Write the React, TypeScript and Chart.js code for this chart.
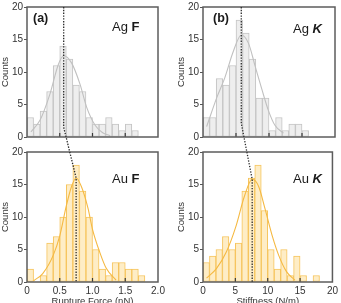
import { useEffect, useRef } from 'react';
import { Chart, registerables } from 'chart.js';

Chart.register(...registerables);

const FONT = "'Liberation Sans', Arial, Helvetica, sans-serif";

// Histogram bins (bin centres) and counts
const forceBinCenters = [0.05, 0.15, 0.25, 0.35, 0.45, 0.55, 0.65, 0.75, 0.85, 0.95, 1.05, 1.15, 1.25, 1.35, 1.45, 1.55, 1.65, 1.75];
const agForceCounts = [3, 2, 4, 7, 11, 14, 12, 8, 7, 3, 2, 2, 3, 2, 1, 2, 1];
const auForceCounts = [2, 0, 1, 6, 7, 10, 15, 18, 14, 10, 5, 2, 1, 3, 3, 2, 2, 1];

const stiffBinCenters = [0.5, 1.5, 2.5, 3.5, 4.5, 5.5, 6.5, 7.5, 8.5, 9.5, 10.5, 11.5, 12.5, 13.5, 14.5, 15.5, 16.5, 17.5];
const agStiffCounts = [3, 3, 9, 8, 11, 18, 16, 12, 6, 6, 1, 3, 1, 2, 2, 1];
const auStiffCounts = [3, 4, 5, 7, 5, 6, 14, 16, 18, 11, 5, 2, 5, 1, 4, 1, 0, 1];

// Fitted distribution curves, sampled as [x, count]
const agForceFit = [[0.06, 0.8], [0.2, 2.6], [0.35, 6.6], [0.48, 11.2], [0.56, 12.5], [0.68, 11.4], [0.81, 8.1], [0.91, 4.6], [1.04, 1.8], [1.15, 0.7], [1.27, 0.2]];
const auForceFit = [[0.1, 0.2], [0.24, 1.3], [0.4, 4.1], [0.5, 7.1], [0.6, 11.7], [0.68, 14.7], [0.75, 16], [0.83, 14.7], [0.93, 11.4], [1.0, 8.1], [1.11, 4.6], [1.21, 2.1], [1.36, 0.3]];
const agStiffFit = [[0.55, 1.6], [2.1, 6.1], [3.3, 9.1], [4.6, 13.2], [5.8, 15.7], [6.9, 14.4], [7.9, 10.9], [8.9, 7.4], [9.9, 4.1], [10.9, 1.8], [12.2, 0.6]];
const auStiffFit = [[0.55, 0.6], [2.1, 2.1], [3.6, 4.6], [5.1, 8.6], [6.4, 13.2], [7.6, 15.8], [8.6, 14.7], [9.6, 11.2], [10.7, 7.1], [11.7, 4.1], [12.9, 1.6], [14.2, 0.3]];

// Mean positions joined by the dotted guide
const agForceMean = 0.56;
const auForceMean = 0.75;
const auForcePeak = 16;
const agForceBend = 1.5;
const agStiffMean = 5.8;
const auStiffMean = 7.6;
const auStiffPeak = 15.8;
const agStiffBend = 2.1;

// Axis ticks
const countTicks = [0, 5, 10, 15, 20];
const forceTicks = [0, 0.5, 1.0, 1.5, 2.0];
const stiffTicks = [0, 5, 10, 15, 20];

const AG = { fill: '#eeeeee', edge: '#c4c4c4', line: '#c0c0c0' };
const AU = { fill: '#feedc6', edge: '#f6c45c', line: '#f5b942' };

const panelDecor = {
  id: 'panelDecor',
  afterDatasetsDraw(chart: any, _args: any, opts: any) {
    const { ctx, chartArea: a, scales } = chart;
    ctx.save();
    // inward x tick marks
    ctx.strokeStyle = '#3a3a3a';
    ctx.lineWidth = 1.2;
    for (const t of opts.xTicks) {
      if (t <= scales.x.min || t >= scales.x.max) continue;
      const px = scales.x.getPixelForValue(t);
      ctx.beginPath();
      ctx.moveTo(px, a.bottom);
      ctx.lineTo(px, a.bottom - 4);
      ctx.stroke();
    }
    // frame
    ctx.strokeStyle = '#5c5c5c';
    ctx.lineWidth = 1.5;
    ctx.strokeRect(a.left, a.top, a.right - a.left, a.bottom - a.top);
    // panel tag and sample label
    ctx.fillStyle = '#1a1a1a';
    ctx.textBaseline = 'alphabetic';
    if (opts.tag) {
      ctx.font = `bold 12.5px ${FONT}`;
      ctx.fillText(opts.tag, a.left + opts.tagDx, a.top + opts.tagBase);
    }
    ctx.font = `13px ${FONT}`;
    const lx = a.left + opts.labelDx;
    const ly = a.top + opts.labelBase;
    const head = opts.element + ' ';
    ctx.fillText(head, lx, ly);
    const w = ctx.measureText(head).width;
    ctx.font = `${opts.italic ? 'italic ' : ''}bold 13px ${FONT}`;
    ctx.fillText(opts.symbol, lx + w, ly);
    ctx.restore();
  },
};

type Panel = {
  centers: number[];
  counts: number[];
  fit: number[][];
  colors: { fill: string; edge: string; line: string };
  xTicks: number[];
  showXLabels: boolean;
  xTitle: string;
  fmt: (v: number) => string;
  rightPad: number;
  xAxisHeight: number;
  tag?: string;
  tagDx?: number;
  tagBase?: number;
  element: string;
  symbol: string;
  italic: boolean;
  labelDx: number;
  labelBase: number;
};

function makeChart(canvas: HTMLCanvasElement, p: Panel) {
  const xMax = p.xTicks[p.xTicks.length - 1];
  return new Chart(canvas, {
    type: 'bar',
    data: {
      datasets: [
        {
          type: 'line',
          data: p.fit.map(([x, y]) => ({ x, y })),
          borderColor: p.colors.line,
          borderWidth: 1.1,
          pointRadius: 0,
          cubicInterpolationMode: 'monotone',
          fill: false,
          order: 0,
        } as any,
        {
          type: 'bar',
          data: p.counts.map((c, i) => ({ x: p.centers[i], y: c })),
          backgroundColor: p.colors.fill,
          borderColor: p.colors.edge,
          borderWidth: 1,
          borderSkipped: false,
          barPercentage: 1,
          categoryPercentage: 1,
          order: 1,
        } as any,
      ],
    },
    options: {
      responsive: false,
      animation: false,
      events: [],
      layout: { padding: { left: 0, top: 5, right: p.rightPad, bottom: 0 } },
      plugins: {
        legend: { display: false },
        tooltip: { enabled: false },
        panelDecor: {
          xTicks: p.xTicks,
          tag: p.tag,
          tagDx: p.tagDx,
          tagBase: p.tagBase,
          element: p.element,
          symbol: p.symbol,
          italic: p.italic,
          labelDx: p.labelDx,
          labelBase: p.labelBase,
        },
      } as any,
      scales: {
        x: {
          type: 'linear',
          min: 0,
          max: xMax,
          offset: false,
          afterBuildTicks: (s: any) => {
            s.ticks = p.xTicks.map((v) => ({ value: v }));
          },
          afterFit: (s: any) => {
            s.height = p.xAxisHeight;
          },
          ticks: {
            display: p.showXLabels,
            autoSkip: false,
            maxRotation: 0,
            padding: 3,
            color: '#333',
            font: { family: FONT, size: 10 },
            callback: (v: any) => p.fmt(Number(v)),
          },
          grid: { display: false, drawTicks: false },
          border: { display: false },
          title: {
            display: p.showXLabels,
            text: p.xTitle,
            color: '#333',
            padding: 0,
            font: { family: FONT, size: 9.5 },
          },
        },
        y: {
          min: 0,
          max: 20,
          afterBuildTicks: (s: any) => {
            s.ticks = countTicks.map((v) => ({ value: v }));
          },
          afterFit: (s: any) => {
            s.width = 27;
          },
          ticks: {
            padding: 1,
            color: '#333',
            font: { family: FONT, size: 10 },
          },
          grid: {
            display: true,
            drawOnChartArea: false,
            drawTicks: true,
            tickLength: 3,
            color: '#555',
            lineWidth: 1,
          },
          border: { display: false },
          title: {
            display: true,
            text: 'Counts',
            color: '#333',
            padding: 0,
            font: { family: FONT, size: 9.5 },
          },
        },
      },
    } as any,
    plugins: [panelDecor],
  });
}

const fmtForce = (v: number) => (v === 0 ? '0' : v.toFixed(1));
const fmtStiff = (v: number) => String(v);

const BOTTOM_TOP = 145;
const RIGHT_LEFT = 176;

export default function App() {
  const tlRef = useRef<HTMLCanvasElement>(null);
  const blRef = useRef<HTMLCanvasElement>(null);
  const trRef = useRef<HTMLCanvasElement>(null);
  const brRef = useRef<HTMLCanvasElement>(null);
  const ovRef = useRef<HTMLCanvasElement>(null);

  useEffect(() => {
    const agF = makeChart(tlRef.current!, {
      centers: forceBinCenters, counts: agForceCounts, fit: agForceFit, colors: AG,
      xTicks: forceTicks, showXLabels: false, xTitle: '', fmt: fmtForce,
      rightPad: 12, xAxisHeight: 8,
      tag: '(a)', tagDx: 6, tagBase: 14.5,
      element: 'Ag', symbol: 'F', italic: false, labelDx: 85, labelBase: 24,
    });
    const auF = makeChart(blRef.current!, {
      centers: forceBinCenters, counts: auForceCounts, fit: auForceFit, colors: AU,
      xTicks: forceTicks, showXLabels: true, xTitle: 'Rupture Force (nN)', fmt: fmtForce,
      rightPad: 12, xAxisHeight: 25,
      element: 'Au', symbol: 'F', italic: false, labelDx: 85, labelBase: 31,
    });
    const agK = makeChart(trRef.current!, {
      centers: stiffBinCenters, counts: agStiffCounts, fit: agStiffFit, colors: AG,
      xTicks: stiffTicks, showXLabels: false, xTitle: '', fmt: fmtStiff,
      rightPad: 6, xAxisHeight: 8,
      tag: '(b)', tagDx: 10, tagBase: 15,
      element: 'Ag', symbol: 'K', italic: true, labelDx: 90, labelBase: 25.5,
    });
    const auK = makeChart(brRef.current!, {
      centers: stiffBinCenters, counts: auStiffCounts, fit: auStiffFit, colors: AU,
      xTicks: stiffTicks, showXLabels: true, xTitle: 'Stiffness (N/m)', fmt: fmtStiff,
      rightPad: 6, xAxisHeight: 25,
      element: 'Au', symbol: 'K', italic: true, labelDx: 90, labelBase: 31,
    });

    // dotted guide from the Ag mean to the Au mean in each column
    const ctx = ovRef.current!.getContext('2d')!;
    ctx.clearRect(0, 0, 341, 303);
    const guide = (top: Chart, bot: Chart, dx: number, agMean: number, bend: number, auMean: number, auPeak: number) => {
      const ts: any = top.scales;
      const bs: any = bot.scales;
      const x1 = ts.x.getPixelForValue(agMean) + dx;
      const y1 = ts.y.getPixelForValue(20);
      const y2 = ts.y.getPixelForValue(bend);
      const x3 = bs.x.getPixelForValue(auMean) + dx;
      const y3 = bs.y.getPixelForValue(auPeak) + BOTTOM_TOP;
      const y4 = bs.y.getPixelForValue(0) + BOTTOM_TOP;
      ctx.save();
      ctx.strokeStyle = '#2a2a2a';
      ctx.lineWidth = 1.3;
      ctx.setLineDash([1.4, 1.4]);
      ctx.beginPath();
      ctx.moveTo(x1, y1);
      ctx.lineTo(x1, y2);
      ctx.lineTo(x3, y3);
      ctx.lineTo(x3, y4);
      ctx.stroke();
      ctx.restore();
    };
    guide(agF, auF, 0, agForceMean, agForceBend, auForceMean, auForcePeak);
    guide(agK, auK, RIGHT_LEFT, agStiffMean, agStiffBend, auStiffMean, auStiffPeak);

    return () => {
      agF.destroy();
      auF.destroy();
      agK.destroy();
      auK.destroy();
    };
  }, []);

  const abs = (left: number, top: number, w: number, h: number) => ({
    position: 'absolute' as const, left, top, width: w, height: h,
  });

  return (
    <div style={{ position: 'absolute', left: 0, top: 0, width: 341, height: 303, overflow: 'hidden', background: '#fff' }}>
      <canvas ref={tlRef} width={170} height={145} style={abs(0, 0, 170, 145)} />
      <canvas ref={blRef} width={170} height={162} style={abs(0, BOTTOM_TOP, 170, 162)} />
      <canvas ref={trRef} width={165} height={145} style={abs(RIGHT_LEFT, 0, 165, 145)} />
      <canvas ref={brRef} width={165} height={162} style={abs(RIGHT_LEFT, BOTTOM_TOP, 165, 162)} />
      <canvas ref={ovRef} width={341} height={303} style={{ ...abs(0, 0, 341, 303), pointerEvents: 'none' }} />
    </div>
  );
}
